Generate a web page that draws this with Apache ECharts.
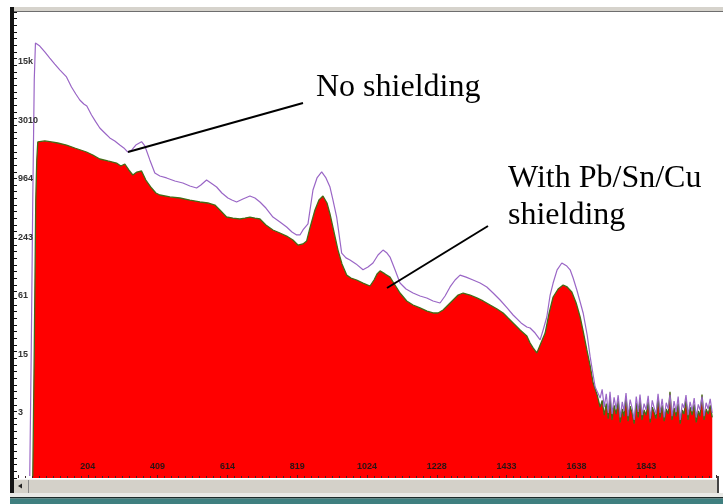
<!DOCTYPE html>
<html>
<head>
<meta charset="utf-8">
<title>Spectrum: no shielding vs Pb/Sn/Cu shielding</title>
<script src="https://cdn.jsdelivr.net/npm/echarts@6/dist/echarts.min.js"></script>
<style>
  html, body { margin: 0; padding: 0; background: #ffffff; }
  #chart { width: 723px; height: 504px; }
</style>
</head>
<body>
<div id="chart"></div>
<script>
// Channel axis tick labels (every 2048/10 channels, truncated)
const channelTickLabels = ['204', '409', '614', '819', '1024', '1228', '1433', '1638', '1843'];
// Count axis tick labels, one per power of four from 4^1 to 4^7
const countTickLabels = ['3', '15', '61', '243', '964', '3010', '15k'];

// Unshielded spectrum (channel, counts) up to the end of the last peak
const bareChannels = [34.5, 38.9, 43.3, 47.7, 51.2, 63.9, 78.6, 93.3, 107.9, 122.6, 142.3, 156.9, 169.6, 181.3, 193.1, 201.9, 215.7, 228.3, 240, 254.7,
  269.4, 284, 298.7, 310.5, 322.2, 334, 345.7, 362.5, 372.2, 386.8, 401.5, 416.2, 435.9, 460.2, 483.7, 504.3, 524, 536.6, 553.3, 566,
  582.7, 598.2, 615.9, 627.6, 641.4, 659.9, 680.5, 695.2, 709.9, 727.4, 748, 768.6, 788.2, 803.8, 817.6, 827.3, 836.1, 850.8, 865.5, 877.3,
  891, 903.6, 915.4, 924.2, 935, 949.7, 962.3, 974.1, 991.7, 1012.3, 1026.9, 1041.6, 1056.3, 1071, 1082.7, 1091.5, 1106.2, 1120.9, 1138.5, 1159.1,
  1179.6, 1199.3, 1217.8, 1238.3, 1253, 1267.7, 1282.4, 1297.1, 1314.7, 1335.2, 1355.8, 1375.5, 1394, 1414.5, 1435.1, 1452.7, 1476.1, 1492.9, 1502.6, 1517.3,
  1532, 1540.8, 1551.6, 1561.3, 1570.1, 1581.8, 1595.6, 1610.3, 1620, 1628.8, 1639.7, 1649.4, 1658.2, 1670, 1678.8, 1687.6, 1693.5];
const bareCounts = [0.9, 17.8, 622, 10700, 25700, 23900, 20800, 18000, 15600, 13600, 11500, 9060, 7680, 6660, 6060, 5780, 4670, 3960, 3430, 3050,
  2710, 2520, 2290, 2140, 1940, 2040, 2290, 2480, 2240, 1610, 1180, 1100, 1050, 977, 931, 868, 827, 888, 1000, 931,
  847, 735, 653, 622, 594, 637, 685, 653, 594, 515, 416, 370, 328, 292, 272, 272, 306, 353, 789, 1050,
  1210, 1050, 847, 622, 416, 177, 158, 150, 137, 119, 127, 140, 169, 190, 177, 161, 119, 87, 75.5, 68.7,
  64, 61.1, 56.9, 54.2, 64, 79.3, 93.5, 105, 100, 93.5, 87, 79.3, 68.7, 58.2, 48.2, 40.8, 33.8, 30.7, 30, 26.6,
  22.6, 28.6, 38.9, 65.5, 87, 119, 140, 130, 119, 98, 73.8, 55.5, 42.8, 25.4, 15.1, 9.84, 7.4];

// Pb/Sn/Cu shielded spectrum (channel, counts) up to the end of the last peak
const shieldChannels = [43.3, 47.7, 52.1, 55.1, 58, 78.6, 98.2, 116.7, 142.3, 166.6, 201, 219.5, 240, 263.5, 289.1, 301.7, 313.4, 325.2, 336.9, 348.7,
  362.5, 375.1, 391.8, 404.5, 416.2, 445.6, 474.9, 504.3, 533.7, 557.2, 577.7, 592.4, 612, 630.5, 651.1, 665.8, 680.5, 695.2, 709.9, 727.4,
  748, 768.6, 788.2, 806.7, 821.4, 836.1, 847, 856.6, 871.3, 883.1, 894.8, 906.6, 915.4, 927.1, 938.9, 950.6, 964.4, 977, 993.7, 1012.3,
  1032.8, 1044.6, 1053.4, 1062.2, 1076.9, 1091.5, 1106.2, 1120.9, 1140.6, 1159.1, 1179.6, 1200.2, 1217.8, 1232.5, 1247.2, 1261.9, 1276.6, 1291.3, 1306, 1326.6,
  1346.2, 1364.7, 1385.3, 1405.8, 1423.4, 1438.1, 1452.7, 1473.3, 1493, 1502.6, 1511.4, 1522.3, 1532, 1546.7, 1558.4, 1570.1, 1584.8, 1599.5, 1611.2, 1625,
  1637.7, 1649.4, 1658.2, 1669.1, 1678.8, 1687.6, 1699.3];
const shieldCounts = [0.88, 17.8, 622, 1607, 2464, 2523, 2464, 2404, 2291, 2135, 1942, 1809, 1645, 1570, 1496, 1393, 1461, 1268, 1126, 1208,
  1238, 1000, 827, 735, 701, 669, 653, 622, 594, 580, 553, 491, 416, 406, 397, 406, 416, 406, 397, 344,
  306, 285, 265, 241, 214, 220, 236, 321, 491, 622, 685, 580, 447, 292, 190, 137, 105, 98, 93.5, 87,
  81.1, 93.5, 108, 116, 108, 100, 83.1, 68.7, 56.9, 51.7, 48.2, 44.8, 42.8, 42.8, 45.9, 51.7, 58.2, 65.5, 68.7, 65.5,
  61.1, 56.9, 51.7, 47, 42.8, 38, 33.8, 28.6, 24.8, 21, 18.7, 16.6, 20, 26.6, 42.8, 62.5, 75.5, 83.1, 79.3, 70.4,
  54.2, 38.9, 27.9, 17.8, 12.2, 8.14, 6.13];

// Background region above the last peak, shared channel grid
const tailChannels = [1708, 1714, 1720, 1726, 1732, 1737, 1743, 1749, 1755, 1761, 1767, 1773, 1778, 1784, 1790, 1796, 1802, 1808, 1814, 1820,
  1825, 1831, 1837, 1843, 1849, 1855, 1861, 1866, 1872, 1878, 1884, 1890, 1896, 1902, 1908, 1913, 1919, 1925, 1931, 1937,
  1943, 1949, 1954, 1960, 1966, 1972, 1978, 1984, 1990, 1996, 2001, 2007, 2013, 2019, 2025, 2031, 2037];
const bareTail = [5.7, 7.0, 4.6, 6.3, 4.0, 6.6, 3.9, 5.8, 4.4, 6.1, 3.6, 5.2, 4.2, 6.4, 3.7, 5.5, 4.5, 3.4, 5.9, 4.1,
  6.2, 3.8, 5.0, 4.3, 6.0, 3.5, 5.4, 4.6, 3.9, 6.3, 4.0, 5.6, 3.6, 5.1, 4.4, 6.2, 3.7, 5.3, 4.1, 5.9,
  3.4, 5.0, 4.5, 6.1, 3.8, 5.2, 4.2, 5.7, 3.6, 4.9, 4.3, 5.9, 3.7, 5.1, 4.4, 5.6, 4.0];
const shieldTail = [4.6, 5.4, 3.8, 5.0, 3.5, 5.6, 3.4, 4.8, 3.9, 5.3, 3.2, 4.4, 3.7, 5.8, 3.3, 4.7, 4.0, 3.1, 5.1, 3.6,
  5.5, 3.4, 4.3, 3.8, 5.2, 3.2, 4.6, 4.1, 3.5, 5.7, 3.6, 4.8, 3.3, 4.4, 3.9, 6.6, 3.4, 4.5, 3.7, 5.0,
  3.1, 4.3, 3.9, 5.4, 3.4, 4.6, 3.8, 4.9, 3.2, 4.2, 3.7, 6.2, 3.4, 4.4, 3.9, 4.8, 3.6];

function pairs(chs, vals) { return chs.map(function (c, i) { return [c, vals[i]]; }); }
const bareData = pairs(bareChannels, bareCounts).concat(pairs(tailChannels, bareTail));
const shieldData = pairs(shieldChannels, shieldCounts).concat(pairs(tailChannels, shieldTail));

const labelFont = { fontSize: 9, fontWeight: 'bold', fontFamily: '"Liberation Sans", Arial, sans-serif' };
const noteFont = '32px "Liberation Serif", "Times New Roman", serif';

const chart = echarts.init(document.getElementById('chart'), null, { renderer: 'canvas' });
chart.setOption({
  animation: false,
  backgroundColor: '#ffffff',
  grid: { left: 18, right: 7, top: 12, bottom: 26 },
  xAxis: {
    type: 'value', min: 0, max: 2048, interval: 204.8, z: 10,
    axisLine: { show: false },
    axisTick: { show: true, inside: true, length: 3, lineStyle: { color: '#3a2a2a' } },
    minorTick: { show: true, splitNumber: 10, length: 2, lineStyle: { color: '#3a2a2a' } },
    splitLine: { show: false },
    axisLabel: Object.assign({
      inside: true, margin: 7, color: '#2b1414',
      formatter: function (v) {
        const k = Math.round(v / 204.8);
        return channelTickLabels[k - 1] || '';
      }
    }, labelFont)
  },
  yAxis: [{
    type: 'log', logBase: 4, min: 0.857, max: 53600, z: 10,
    axisLine: { show: false },
    axisTick: { show: false },
    splitLine: { show: false },
    axisLabel: Object.assign({
      inside: true, margin: 0, color: '#333333',
      formatter: function (v) {
        const e = Math.log(v) / Math.log(4);
        const k = Math.round(e);
        if (Math.abs(e - k) > 0.01) return '';
        return countTickLabels[k - 1] || '';
      }
    }, labelFont)
  }, {
    // fine scale ticks along the left frame
    type: 'value', position: 'left', offset: 4, min: 0, max: 70, interval: 1,
    axisLine: { show: false },
    axisTick: { show: true, inside: true, length: 3, lineStyle: { color: '#111111' } },
    axisLabel: { show: false },
    splitLine: { show: false }
  }],
  series: [{
    name: 'With Pb/Sn/Cu shielding', type: 'line', data: shieldData, yAxisIndex: 0,
    symbol: 'none', z: 2,
    lineStyle: { color: '#456a14', width: 1.3 },
    areaStyle: { color: '#ff0000', opacity: 1, origin: 'start' }
  }, {
    name: 'No shielding', type: 'line', data: bareData, yAxisIndex: 0,
    symbol: 'none', z: 3,
    lineStyle: { color: '#9a66c6', width: 1.2 }
  }],
  graphic: [
    { type: 'rect', silent: true, shape: { x: 12, y: 7, width: 711, height: 4 }, style: { fill: '#d6d3cc' } },
    { type: 'rect', silent: true, shape: { x: 12, y: 11, width: 711, height: 1 }, style: { fill: '#6e6e6e' } },
    { type: 'rect', silent: true, shape: { x: 10, y: 7, width: 4, height: 490 }, style: { fill: '#141414' } },
    { type: 'rect', silent: true, shape: { x: 14, y: 479, width: 703, height: 14 }, style: { fill: '#d4d1c9' } },
    { type: 'rect', silent: true, shape: { x: 14, y: 479, width: 703, height: 1 }, style: { fill: '#f2f2f0' } },
    { type: 'line', silent: true, shape: { x1: 28.5, y1: 480, x2: 28.5, y2: 493 }, style: { stroke: '#8a8a8a', lineWidth: 1 } },
    { type: 'polygon', silent: true, shape: { points: [[18, 486], [22, 483.5], [22, 488.5]] }, style: { fill: '#222222' } },
    { type: 'rect', silent: true, shape: { x: 717, y: 476, width: 2, height: 17 }, style: { fill: '#444444' } },
    { type: 'rect', silent: true, shape: { x: 10, y: 493, width: 713, height: 4 }, style: { fill: '#e9e9e6' } },
    { type: 'rect', silent: true, shape: { x: 10, y: 497, width: 713, height: 1.5 }, style: { fill: '#1d2b2b' } },
    { type: 'rect', silent: true, shape: { x: 10, y: 498.5, width: 713, height: 6 }, style: { fill: '#3f7f7f' } },
    { type: 'line', silent: true, z: 100, shape: { x1: 128, y1: 152, x2: 303, y2: 103 }, style: { stroke: '#000000', lineWidth: 2 } },
    { type: 'line', silent: true, z: 100, shape: { x1: 387, y1: 288, x2: 488, y2: 226 }, style: { stroke: '#000000', lineWidth: 2 } },
    { type: 'text', silent: true, z: 100, x: 316, y: 72,
      style: { text: 'No shielding', font: noteFont, fill: '#000000', verticalAlign: 'top' } },
    { type: 'text', silent: true, z: 100, x: 508, y: 160,
      style: { text: 'With Pb/Sn/Cu\nshielding', font: noteFont, fill: '#000000', verticalAlign: 'top', lineHeight: 37 } }
  ]
});
</script>
</body>
</html>
